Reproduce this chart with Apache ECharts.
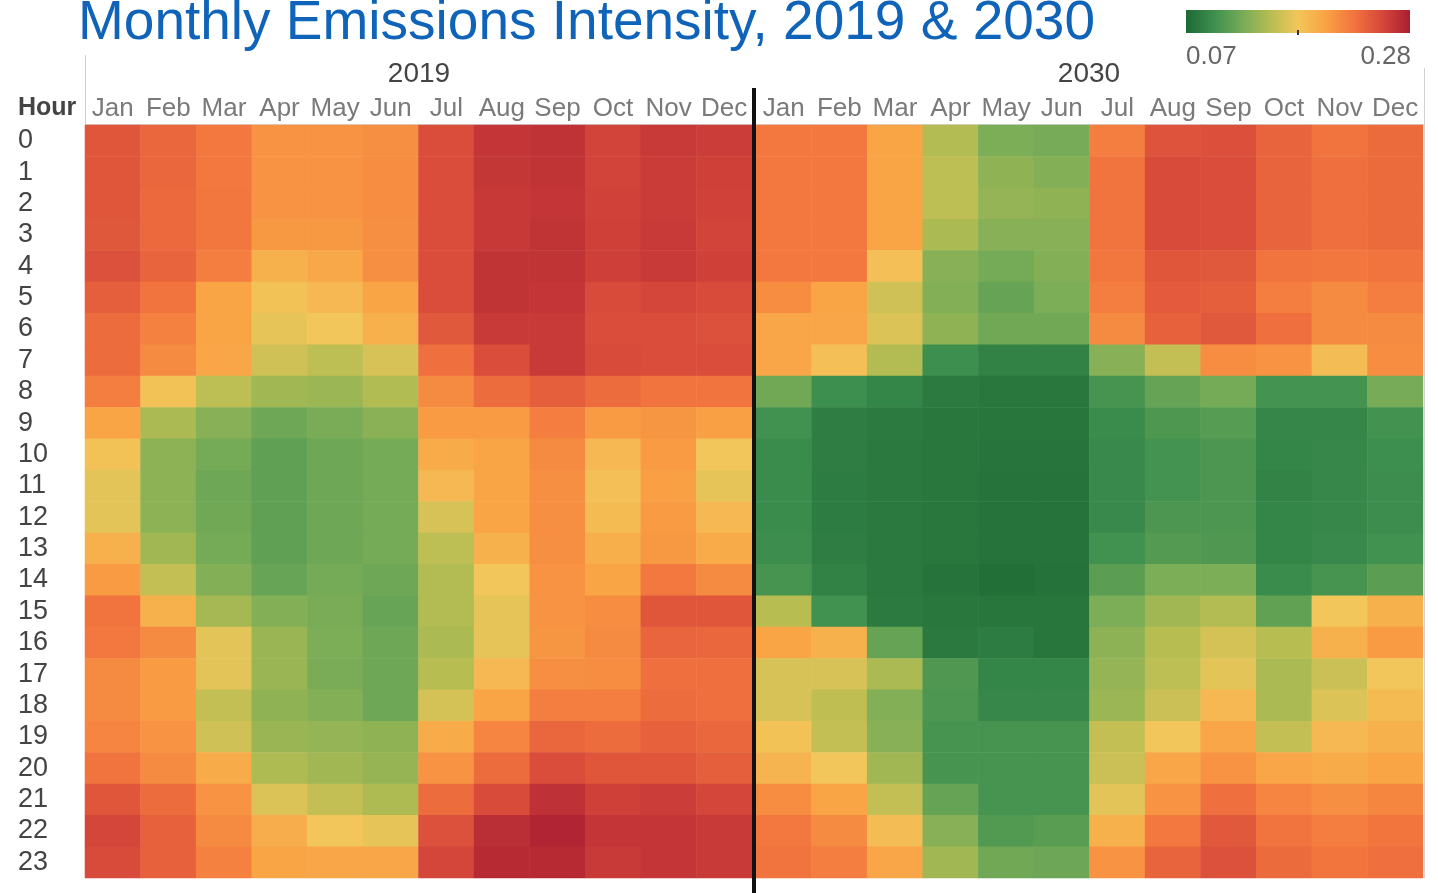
<!DOCTYPE html>
<html>
<head>
<meta charset="utf-8">
<script src="https://cdn.jsdelivr.net/npm/echarts@6/dist/echarts.min.js"></script>
<style>
  html, body { margin: 0; padding: 0; background: #fff; }
  #chart { width: 1438px; height: 893px; }
</style>
</head>
<body>
<div id="chart"></div>
<script>
// Axis categories
const months = ['Jan', 'Feb', 'Mar', 'Apr', 'May', 'Jun', 'Jul', 'Aug', 'Sep', 'Oct', 'Nov', 'Dec'];
const hours = ['0','1','2','3','4','5','6','7','8','9','10','11','12','13','14','15','16','17','18','19','20','21','22','23'];

// Colour scale range
const scaleMin = 0.07;
const scaleMax = 0.28;
const scaleLabels = ['0.07', '0.28'];

// Emissions intensity by hour (rows) and month (columns), 2019
const intensity2019 = [
  [0.245, 0.235, 0.225, 0.210, 0.210, 0.212, 0.250, 0.265, 0.267, 0.256, 0.262, 0.260],
  [0.245, 0.235, 0.225, 0.210, 0.210, 0.213, 0.250, 0.264, 0.266, 0.256, 0.261, 0.258],
  [0.245, 0.234, 0.226, 0.210, 0.210, 0.213, 0.250, 0.263, 0.265, 0.257, 0.261, 0.257],
  [0.244, 0.234, 0.226, 0.207, 0.207, 0.212, 0.250, 0.263, 0.266, 0.258, 0.262, 0.256],
  [0.248, 0.237, 0.222, 0.190, 0.197, 0.212, 0.250, 0.266, 0.266, 0.259, 0.262, 0.258],
  [0.240, 0.228, 0.200, 0.178, 0.185, 0.200, 0.250, 0.266, 0.265, 0.252, 0.255, 0.252],
  [0.232, 0.220, 0.200, 0.170, 0.175, 0.190, 0.243, 0.262, 0.262, 0.250, 0.250, 0.248],
  [0.232, 0.215, 0.198, 0.160, 0.152, 0.163, 0.230, 0.250, 0.262, 0.252, 0.250, 0.250],
  [0.222, 0.178, 0.152, 0.140, 0.138, 0.147, 0.215, 0.232, 0.240, 0.232, 0.228, 0.228],
  [0.200, 0.145, 0.130, 0.119, 0.124, 0.131, 0.205, 0.205, 0.222, 0.205, 0.208, 0.203],
  [0.178, 0.132, 0.122, 0.112, 0.119, 0.122, 0.195, 0.200, 0.215, 0.185, 0.205, 0.175],
  [0.168, 0.132, 0.119, 0.112, 0.119, 0.122, 0.185, 0.200, 0.212, 0.180, 0.203, 0.170],
  [0.168, 0.132, 0.120, 0.112, 0.119, 0.122, 0.163, 0.200, 0.212, 0.183, 0.205, 0.185],
  [0.190, 0.140, 0.122, 0.112, 0.119, 0.122, 0.152, 0.190, 0.212, 0.192, 0.207, 0.195],
  [0.205, 0.155, 0.128, 0.116, 0.122, 0.119, 0.148, 0.175, 0.210, 0.200, 0.225, 0.215],
  [0.228, 0.190, 0.142, 0.128, 0.124, 0.116, 0.148, 0.170, 0.210, 0.213, 0.245, 0.245],
  [0.225, 0.215, 0.168, 0.137, 0.125, 0.119, 0.145, 0.170, 0.208, 0.215, 0.236, 0.235],
  [0.215, 0.205, 0.168, 0.137, 0.124, 0.119, 0.150, 0.185, 0.212, 0.213, 0.230, 0.230],
  [0.215, 0.205, 0.155, 0.133, 0.128, 0.119, 0.162, 0.200, 0.222, 0.222, 0.232, 0.230],
  [0.218, 0.210, 0.160, 0.137, 0.135, 0.133, 0.195, 0.218, 0.235, 0.232, 0.238, 0.235],
  [0.228, 0.215, 0.195, 0.146, 0.140, 0.136, 0.210, 0.232, 0.250, 0.245, 0.245, 0.240],
  [0.245, 0.232, 0.210, 0.165, 0.155, 0.146, 0.232, 0.252, 0.268, 0.258, 0.260, 0.255],
  [0.255, 0.238, 0.215, 0.193, 0.175, 0.170, 0.248, 0.270, 0.276, 0.265, 0.265, 0.262],
  [0.252, 0.238, 0.220, 0.200, 0.198, 0.198, 0.255, 0.272, 0.272, 0.262, 0.265, 0.262]
];

// Emissions intensity by hour (rows) and month (columns), 2030
const intensity2030 = [
  [0.225, 0.225, 0.200, 0.148, 0.125, 0.123, 0.222, 0.247, 0.249, 0.237, 0.228, 0.233],
  [0.225, 0.225, 0.200, 0.152, 0.133, 0.128, 0.228, 0.252, 0.250, 0.237, 0.230, 0.233],
  [0.225, 0.225, 0.200, 0.152, 0.135, 0.133, 0.228, 0.252, 0.250, 0.237, 0.230, 0.233],
  [0.225, 0.225, 0.200, 0.145, 0.130, 0.130, 0.228, 0.252, 0.250, 0.237, 0.230, 0.233],
  [0.225, 0.225, 0.180, 0.130, 0.122, 0.128, 0.226, 0.245, 0.243, 0.228, 0.226, 0.228],
  [0.213, 0.200, 0.160, 0.128, 0.115, 0.125, 0.222, 0.242, 0.240, 0.222, 0.215, 0.222],
  [0.198, 0.198, 0.165, 0.133, 0.120, 0.120, 0.215, 0.238, 0.243, 0.230, 0.215, 0.215],
  [0.198, 0.180, 0.148, 0.096, 0.087, 0.087, 0.130, 0.155, 0.213, 0.210, 0.182, 0.213],
  [0.120, 0.096, 0.089, 0.082, 0.080, 0.080, 0.101, 0.115, 0.122, 0.100, 0.100, 0.123],
  [0.098, 0.084, 0.082, 0.080, 0.079, 0.079, 0.094, 0.104, 0.108, 0.090, 0.090, 0.099],
  [0.094, 0.084, 0.081, 0.080, 0.078, 0.078, 0.092, 0.100, 0.103, 0.089, 0.091, 0.096],
  [0.094, 0.083, 0.081, 0.080, 0.077, 0.077, 0.092, 0.100, 0.103, 0.088, 0.091, 0.095],
  [0.094, 0.083, 0.081, 0.080, 0.077, 0.077, 0.092, 0.103, 0.103, 0.089, 0.091, 0.095],
  [0.095, 0.084, 0.081, 0.080, 0.077, 0.077, 0.098, 0.107, 0.105, 0.089, 0.092, 0.098],
  [0.101, 0.087, 0.081, 0.077, 0.074, 0.076, 0.110, 0.125, 0.125, 0.094, 0.101, 0.110],
  [0.150, 0.098, 0.082, 0.080, 0.079, 0.079, 0.125, 0.140, 0.148, 0.113, 0.175, 0.190],
  [0.200, 0.190, 0.115, 0.081, 0.083, 0.079, 0.132, 0.150, 0.162, 0.150, 0.190, 0.205],
  [0.163, 0.163, 0.145, 0.105, 0.089, 0.089, 0.135, 0.152, 0.168, 0.145, 0.158, 0.175],
  [0.163, 0.153, 0.128, 0.103, 0.091, 0.091, 0.138, 0.158, 0.185, 0.145, 0.165, 0.183],
  [0.178, 0.155, 0.130, 0.101, 0.101, 0.101, 0.155, 0.175, 0.198, 0.155, 0.185, 0.190],
  [0.188, 0.175, 0.140, 0.101, 0.101, 0.101, 0.158, 0.198, 0.210, 0.198, 0.195, 0.200],
  [0.213, 0.200, 0.155, 0.115, 0.101, 0.101, 0.168, 0.210, 0.230, 0.218, 0.212, 0.217],
  [0.225, 0.215, 0.182, 0.130, 0.106, 0.109, 0.190, 0.225, 0.243, 0.228, 0.222, 0.227],
  [0.228, 0.222, 0.198, 0.140, 0.120, 0.118, 0.210, 0.237, 0.248, 0.233, 0.227, 0.230]
];

// Green-to-red diverging palette, evenly spaced from scaleMin to scaleMax
const palette = ['#1e6934', '#3d8f4f', '#76ab57', '#b5bd52', '#f2c65a', '#f9a244', '#f2743e', '#d6473a', '#a91e32'];

function toCells(table) {
  const cells = [];
  table.forEach((row, h) => row.forEach((v, m) => cells.push([m, h, v])));
  return cells;
}

const FONT = '"Liberation Sans", Arial, sans-serif';
const chart = echarts.init(document.getElementById('chart'), null, { renderer: 'canvas' });

const gridBox = [
  { left: 85, top: 125, width: 667, height: 753 },
  { left: 756, top: 125, width: 667, height: 753 }
];

function monthAxis(i) {
  return {
    type: 'category', gridIndex: i, data: months, position: 'top',
    axisLine: { show: false }, axisTick: { show: false }, splitLine: { show: false },
    axisLabel: { color: '#7a7a7a', fontSize: 26, fontFamily: FONT, margin: 3, interval: 0 }
  };
}
function hourAxis(i) {
  return {
    type: 'category', gridIndex: i, data: hours, inverse: true,
    axisLine: { show: false }, axisTick: { show: false }, splitLine: { show: false },
    axisLabel: {
      show: i === 0, color: '#444', fontSize: 27, fontFamily: FONT,
      align: 'left', margin: 67, interval: 0
    }
  };
}

const gradStops = palette.map((c, i) => ({ offset: i / (palette.length - 1), color: c }));

chart.setOption({
  backgroundColor: '#fff',
  animation: false,
  grid: gridBox.map(g => Object.assign({ containLabel: false }, g)),
  xAxis: [monthAxis(0), monthAxis(1)],
  yAxis: [hourAxis(0), hourAxis(1)],
  visualMap: {
    type: 'continuous', show: false, min: scaleMin, max: scaleMax,
    seriesIndex: [0, 1], inRange: { color: palette }
  },
  series: [
    { name: '2019', type: 'heatmap', xAxisIndex: 0, yAxisIndex: 0, data: toCells(intensity2019), itemStyle: { borderWidth: 0 } },
    { name: '2030', type: 'heatmap', xAxisIndex: 1, yAxisIndex: 1, data: toCells(intensity2030), itemStyle: { borderWidth: 0 } }
  ],
  graphic: [
    // title
    { type: 'text', left: 78, top: -4, style: { text: 'Monthly Emissions Intensity, 2019 & 2030', fill: '#0f63b8', font: '55px ' + FONT } },
    // year headers
    { type: 'text', x: 419, y: 74, style: { text: '2019', fill: '#444', font: '28px ' + FONT, align: 'center', verticalAlign: 'middle' } },
    { type: 'text', x: 1089, y: 74, style: { text: '2030', fill: '#444', font: '28px ' + FONT, align: 'center', verticalAlign: 'middle' } },
    { type: 'text', x: 18, y: 108, style: { text: 'Hour', fill: '#444', font: 'bold 25px ' + FONT, align: 'left', verticalAlign: 'middle' } },
    // header rules
    { type: 'line', shape: { x1: 85.5, y1: 55, x2: 85.5, y2: 125 }, style: { stroke: '#d0d0d0', lineWidth: 1 } },
    { type: 'line', shape: { x1: 85, y1: 124.5, x2: 1424, y2: 124.5 }, style: { stroke: '#d8d8d8', lineWidth: 1 } },
    { type: 'line', shape: { x1: 1424.5, y1: 68, x2: 1424.5, y2: 878 }, style: { stroke: '#d0d0d0', lineWidth: 1 } },
    // year divider
    { type: 'line', z: 10, shape: { x1: 754, y1: 88, x2: 754, y2: 893 }, style: { stroke: '#111', lineWidth: 4 } },
    // colour legend
    { type: 'rect', shape: { x: 1186, y: 10, width: 224, height: 23 },
      style: { fill: new echarts.graphic.LinearGradient(0, 0, 1, 0, gradStops) } },
    { type: 'line', shape: { x1: 1298, y1: 30, x2: 1298, y2: 35 }, style: { stroke: '#333', lineWidth: 2 } },
    { type: 'text', x: 1186, y: 57, style: { text: scaleLabels[0], fill: '#666', font: '26px ' + FONT, align: 'left', verticalAlign: 'middle' } },
    { type: 'text', x: 1411, y: 57, style: { text: scaleLabels[1], fill: '#666', font: '26px ' + FONT, align: 'right', verticalAlign: 'middle' } }
  ]
});
</script>
</body>
</html>
